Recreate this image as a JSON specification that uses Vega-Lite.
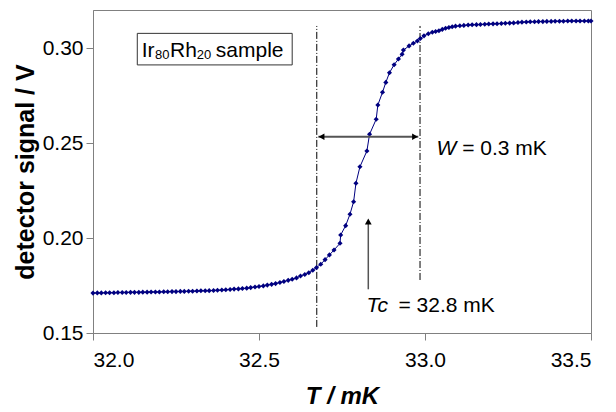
{
  "$schema": "https://vega.github.io/schema/vega-lite/v6.json",
  "width": 498,
  "height": 323,
  "autosize": {"type": "none"},
  "padding": {"left": 93, "top": 10, "right": 25, "bottom": 79},
  "background": "white",
  "datasets": {
    "curve": [
      {"T":32.000,"V":0.1710},{"T":32.013,"V":0.1711},{"T":32.025,"V":0.1711},{"T":32.038,"V":0.1712},{"T":32.050,"V":0.1712},
      {"T":32.063,"V":0.1712},{"T":32.075,"V":0.1713},{"T":32.088,"V":0.1713},{"T":32.100,"V":0.1713},{"T":32.113,"V":0.1714},
      {"T":32.125,"V":0.1714},{"T":32.138,"V":0.1714},{"T":32.150,"V":0.1715},{"T":32.163,"V":0.1715},{"T":32.175,"V":0.1716},
      {"T":32.188,"V":0.1716},{"T":32.200,"V":0.1716},{"T":32.213,"V":0.1717},{"T":32.225,"V":0.1717},{"T":32.238,"V":0.1718},
      {"T":32.250,"V":0.1718},{"T":32.263,"V":0.1719},{"T":32.275,"V":0.1719},{"T":32.288,"V":0.1720},{"T":32.300,"V":0.1720},
      {"T":32.313,"V":0.1721},{"T":32.325,"V":0.1722},{"T":32.338,"V":0.1722},{"T":32.350,"V":0.1723},{"T":32.363,"V":0.1724},
      {"T":32.375,"V":0.1725},{"T":32.388,"V":0.1726},{"T":32.400,"V":0.1728},{"T":32.413,"V":0.1729},{"T":32.425,"V":0.1731},
      {"T":32.438,"V":0.1732},{"T":32.450,"V":0.1734},{"T":32.463,"V":0.1736},{"T":32.475,"V":0.1739},{"T":32.488,"V":0.1742},
      {"T":32.500,"V":0.1745},{"T":32.513,"V":0.1748},{"T":32.525,"V":0.1752},{"T":32.538,"V":0.1756},{"T":32.550,"V":0.1760},
      {"T":32.563,"V":0.1766},{"T":32.575,"V":0.1771},{"T":32.588,"V":0.1777},{"T":32.600,"V":0.1783},{"T":32.613,"V":0.1790},
      {"T":32.625,"V":0.1800},{"T":32.638,"V":0.1808},{"T":32.650,"V":0.1817},{"T":32.662,"V":0.1830},{"T":32.673,"V":0.1844},
      {"T":32.686,"V":0.1862},{"T":32.699,"V":0.1886},{"T":32.712,"V":0.1911},{"T":32.726,"V":0.1937},{"T":32.744,"V":0.1972},
      {"T":32.746,"V":0.2016},{"T":32.761,"V":0.2065},{"T":32.774,"V":0.2125},{"T":32.785,"V":0.2191},{"T":32.792,"V":0.2288},
      {"T":32.804,"V":0.2375},{"T":32.825,"V":0.2458},{"T":32.833,"V":0.2546},{"T":32.853,"V":0.2625},{"T":32.858,"V":0.2700},
      {"T":32.872,"V":0.2767},{"T":32.882,"V":0.2819},{"T":32.893,"V":0.2870},{"T":32.907,"V":0.2912},{"T":32.920,"V":0.2942},
      {"T":32.931,"V":0.2967},{"T":32.935,"V":0.2989},{"T":32.952,"V":0.3011},{"T":32.965,"V":0.3025},{"T":32.977,"V":0.3037},
      {"T":32.986,"V":0.3050},{"T":32.997,"V":0.3064},{"T":33.010,"V":0.3075},{"T":33.022,"V":0.3083},{"T":33.032,"V":0.3087},
      {"T":33.042,"V":0.3091},{"T":33.052,"V":0.3098},{"T":33.062,"V":0.3104},{"T":33.072,"V":0.3108},{"T":33.082,"V":0.3112},
      {"T":33.092,"V":0.3115},{"T":33.105,"V":0.3117},{"T":33.117,"V":0.3119},{"T":33.130,"V":0.3121},{"T":33.142,"V":0.3122},
      {"T":33.155,"V":0.3123},{"T":33.167,"V":0.3124},{"T":33.180,"V":0.3125},{"T":33.192,"V":0.3126},{"T":33.205,"V":0.3127},
      {"T":33.217,"V":0.3128},{"T":33.230,"V":0.3129},{"T":33.242,"V":0.3130},{"T":33.255,"V":0.3131},{"T":33.267,"V":0.3132},
      {"T":33.280,"V":0.3134},{"T":33.292,"V":0.3136},{"T":33.305,"V":0.3137},{"T":33.317,"V":0.3138},{"T":33.330,"V":0.3138},
      {"T":33.342,"V":0.3139},{"T":33.355,"V":0.3139},{"T":33.367,"V":0.3140},{"T":33.380,"V":0.3140},{"T":33.392,"V":0.3141},
      {"T":33.405,"V":0.3141},{"T":33.417,"V":0.3141},{"T":33.430,"V":0.3142},{"T":33.442,"V":0.3142},{"T":33.455,"V":0.3142},
      {"T":33.467,"V":0.3142},{"T":33.480,"V":0.3142},{"T":33.492,"V":0.3142},{"T":33.500,"V":0.3142}
    ],
    "vlines": [
      {"T":32.674,"V":0.1532,"V2":0.3116},
      {"T":32.985,"V":0.1779,"V2":0.3116}
    ],
    "harrow": [{"T":32.6786,"T2":32.9798,"V":0.2533}],
    "varrow": [{"T":32.8292,"V":0.1730,"V2":0.2090}],
    "heads": [
      {"T":32.6883,"V":0.2533,"dir":"left"},
      {"T":32.9699,"V":0.2533,"dir":"right"},
      {"T":32.8292,"V":0.2087,"dir":"up"}
    ],
    "box": [{"T":32.1334,"T2":32.600,"V":0.2911,"V2":0.3077}],
    "boxmain": [
      {"T":32.1467,"V":0.2954,"label":"Ir"},
      {"T":32.2319,"V":0.2954,"label":"Rh"},
      {"T":32.3700,"V":0.2954,"label":"sample"}
    ],
    "boxsub": [
      {"T":32.1867,"V":0.2941,"label":"80"},
      {"T":32.3123,"V":0.2941,"label":"20"}
    ],
    "annitalic": [
      {"T":33.035,"V":0.2437,"label":"W"},
      {"T":32.824,"V":0.1612,"label":"Tc"}
    ],
    "annreg": [
      {"T":33.112,"V":0.2437,"label":"= 0.3 mK"},
      {"T":32.920,"V":0.1612,"label":"= 32.8 mK"}
    ]
  },
  "encoding": {
    "x": {
      "field": "T", "type": "quantitative",
      "scale": {"domain": [32, 33.5], "nice": false, "zero": false},
      "axis": {"values": [32, 32.5, 33, 33.5], "format": ".1f", "title": "T / mK"}
    },
    "y": {
      "field": "V", "type": "quantitative",
      "scale": {"domain": [0.15, 0.32], "nice": false, "zero": false},
      "axis": {"values": [0.15, 0.2, 0.25, 0.3], "format": ".2f", "title": "detector signal / V"}
    }
  },
  "layer": [
    {
      "data": {"name": "vlines"},
      "mark": {"type": "rule", "color": "black", "strokeWidth": 1, "strokeDash": [7, 2, 1, 2]},
      "encoding": {"y2": {"field": "V2"}}
    },
    {
      "data": {"name": "curve"},
      "mark": {"type": "line", "color": "#000080", "strokeWidth": 1,
               "point": {"shape": "diamond", "size": 26, "filled": true, "color": "#000080"}}
    },
    {
      "data": {"name": "harrow"},
      "mark": {"type": "rule", "color": "#555555", "strokeWidth": 2},
      "encoding": {"x2": {"field": "T2"}}
    },
    {
      "data": {"name": "varrow"},
      "mark": {"type": "rule", "color": "#555555", "strokeWidth": 1.5},
      "encoding": {"y2": {"field": "V2"}}
    },
    {
      "data": {"name": "heads"},
      "mark": {"type": "point", "filled": true, "color": "black", "size": 45, "opacity": 1},
      "encoding": {
        "shape": {"field": "dir", "type": "nominal",
                  "scale": {"domain": ["left", "right", "up"], "range": ["triangle-left", "triangle-right", "triangle-up"]},
                  "legend": null}
      }
    },
    {
      "data": {"name": "box"},
      "mark": {"type": "rect", "fill": "white", "stroke": "#333333", "strokeWidth": 1},
      "encoding": {"x2": {"field": "T2"}, "y2": {"field": "V2"}}
    },
    {
      "data": {"name": "boxmain"},
      "mark": {"type": "text", "align": "left", "baseline": "alphabetic", "font": "Liberation Sans", "fontSize": 21, "color": "black"},
      "encoding": {"text": {"field": "label"}}
    },
    {
      "data": {"name": "boxsub"},
      "mark": {"type": "text", "align": "left", "baseline": "alphabetic", "font": "Liberation Sans", "fontSize": 13, "color": "black"},
      "encoding": {"text": {"field": "label"}}
    },
    {
      "data": {"name": "annitalic"},
      "mark": {"type": "text", "align": "left", "baseline": "alphabetic", "font": "Liberation Sans", "fontSize": 21, "fontStyle": "italic", "color": "black"},
      "encoding": {"text": {"field": "label"}}
    },
    {
      "data": {"name": "annreg"},
      "mark": {"type": "text", "align": "left", "baseline": "alphabetic", "font": "Liberation Sans", "fontSize": 21, "color": "black"},
      "encoding": {"text": {"field": "label"}}
    }
  ],
  "config": {
    "view": {"stroke": "#808080", "strokeWidth": 1},
    "axis": {
      "grid": false,
      "domainColor": "#808080",
      "tickColor": "#808080",
      "tickSize": 7,
      "labelFont": "Liberation Sans",
      "labelFontSize": 21,
      "labelColor": "black",
      "titleFont": "Liberation Sans",
      "titleColor": "black",
      "titleFontWeight": "bold"
    },
    "axisX": {"labelPadding": 9, "titlePadding": 14, "titleFontSize": 24, "titleFontStyle": "italic"},
    "axisY": {"labelPadding": 3, "titlePadding": 4, "titleFontSize": 25}
  }
}
